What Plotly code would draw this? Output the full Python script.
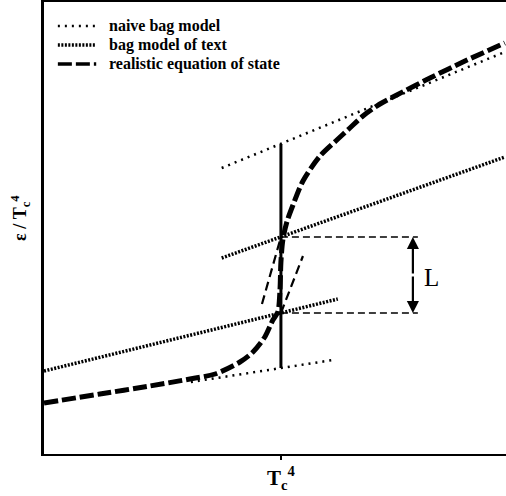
import plotly.graph_objects as go

# ---- data (x in units of T^4/Tc^4, y in arbitrary units of eps/Tc^4) ----
naive_lo_x = [0.62, 1.22]
naive_lo_y = [0.72, 0.94]
naive_hi_x = [0.75, 1.945]
naive_hi_y = [2.86, 4.02]

text_lo_x = [0.0, 1.24]
text_lo_y = [0.83, 1.55]
text_hi_x = [0.75, 1.945]
text_hi_y = [1.96, 2.97]

eos_x = [0.0, 0.236, 0.447, 0.616, 0.722, 0.827, 0.882, 0.932, 0.966, 0.987, 0.996,
         1.0, 1.008, 1.025, 1.051, 1.093, 1.165, 1.236, 1.291, 1.346, 1.418, 1.489,
         1.629, 1.768, 1.945]
eos_y = [0.51, 0.60, 0.68, 0.75, 0.80, 0.92, 1.02, 1.17, 1.34, 1.42, 1.64,
         1.92, 2.14, 2.32, 2.49, 2.73, 2.98, 3.14, 3.26, 3.38, 3.50, 3.59,
         3.76, 3.92, 4.11]

ext_up_x = [0.92, 1.0]     # continuation of upper branch downward
ext_up_y = [1.50, 2.17]
ext_lo_x = [1.0, 1.093]    # continuation of lower branch upward
ext_lo_y = [1.41, 1.98]

tc_x = 1.0
vline_y = [0.86, 3.10]
level_hi = 2.17
level_lo = 1.41
level_end_x = 1.578
arrow_x = 1.557
label_L_pos = (1.595, 1.77)

legend_names = ["naive bag model", "bag model of text", "realistic equation of state"]
xtick_vals = [1.0]
xtick_text = ["<b>T<sub>c</sub><sup>4</sup></b>"]
ylabel = "<b>\u03b5 / T<sub>c</sub><sup>4</sup></b>"

FONT = "Liberation Serif"
fig = go.Figure()

naive_line = dict(color="black", width=2.5, dash="2px,5px")
text_line = dict(color="black", width=3.5, dash="2px,1.5px")
eos_line = dict(color="black", width=5, dash="14px,4px")
styles = [naive_line, text_line, eos_line]

fig.add_trace(go.Scatter(x=naive_lo_x, y=naive_lo_y, mode="lines", line=naive_line))
fig.add_trace(go.Scatter(x=naive_hi_x, y=naive_hi_y, mode="lines", line=naive_line))
fig.add_trace(go.Scatter(x=text_lo_x, y=text_lo_y, mode="lines", line=text_line))
fig.add_trace(go.Scatter(x=text_hi_x, y=text_hi_y, mode="lines", line=text_line))
fig.add_trace(go.Scatter(x=eos_x, y=eos_y, mode="lines",
                         line=dict(eos_line, shape="spline", smoothing=0.8)))
thin = dict(color="black", width=2.2, dash="9px,5px")
fig.add_trace(go.Scatter(x=ext_up_x, y=ext_up_y, mode="lines", line=thin))
fig.add_trace(go.Scatter(x=ext_lo_x, y=ext_lo_y, mode="lines", line=thin))
# vertical line at Tc
fig.add_trace(go.Scatter(x=[tc_x, tc_x], y=vline_y, mode="lines",
                         line=dict(color="black", width=3)))
# horizontal dashed levels
hd = dict(color="black", width=1.5, dash="7px,4px")
for lv in (level_hi, level_lo):
    fig.add_trace(go.Scatter(x=[tc_x, level_end_x], y=[lv, lv], mode="lines", line=hd))

# double-headed arrow
mid = (level_hi + level_lo) / 2
for tip in (level_hi, level_lo):
    fig.add_annotation(x=arrow_x, y=tip, ax=arrow_x, ay=mid, axref="x", ayref="y",
                       xref="x", yref="y", text="", showarrow=True, arrowhead=2,
                       arrowsize=1.1, arrowwidth=2.2, arrowcolor="black")
fig.add_annotation(x=label_L_pos[0], y=label_L_pos[1], text="L", showarrow=False,
                   xanchor="left", font=dict(family=FONT, size=25, color="black"))
fig.add_annotation(xref="paper", yref="paper", x=-0.052, y=0.522, text=ylabel,
                   textangle=-90, showarrow=False, xanchor="center", yanchor="middle",
                   font=dict(family=FONT, size=18, color="black"))

# manual legend
leg_y = [0.947, 0.905, 0.863]
for name, st, yy in zip(legend_names, styles, leg_y):
    fig.add_shape(type="line", xref="paper", yref="paper", x0=0.030, x1=0.113,
                  y0=yy, y1=yy, line=dict(color="black", width=min(st["width"], 3.5),
                                          dash=st["dash"]))
    fig.add_annotation(xref="paper", yref="paper", x=0.136, y=yy, text=name,
                       showarrow=False, xanchor="left", yanchor="middle",
                       font=dict(family=FONT, size=16, color="black", weight="bold"))

fig.update_layout(
    width=506, height=496, margin=dict(l=44, r=0, t=2, b=42),
    paper_bgcolor="white", plot_bgcolor="white",
    showlegend=False,
    xaxis=dict(range=[0, 1.95], showgrid=False, zeroline=False, showline=True,
               linecolor="black", linewidth=2, mirror=True,
               tickvals=xtick_vals, ticktext=xtick_text, ticks="outside", ticklen=4,
               tickwidth=2, tickcolor="black",
               tickfont=dict(family=FONT, size=21, color="black")),
    yaxis=dict(range=[0, 4.52], showgrid=False, zeroline=False, showline=True,
               linecolor="black", linewidth=3, showticklabels=False, ticks=""),
)
fig.write_html("out.html")
